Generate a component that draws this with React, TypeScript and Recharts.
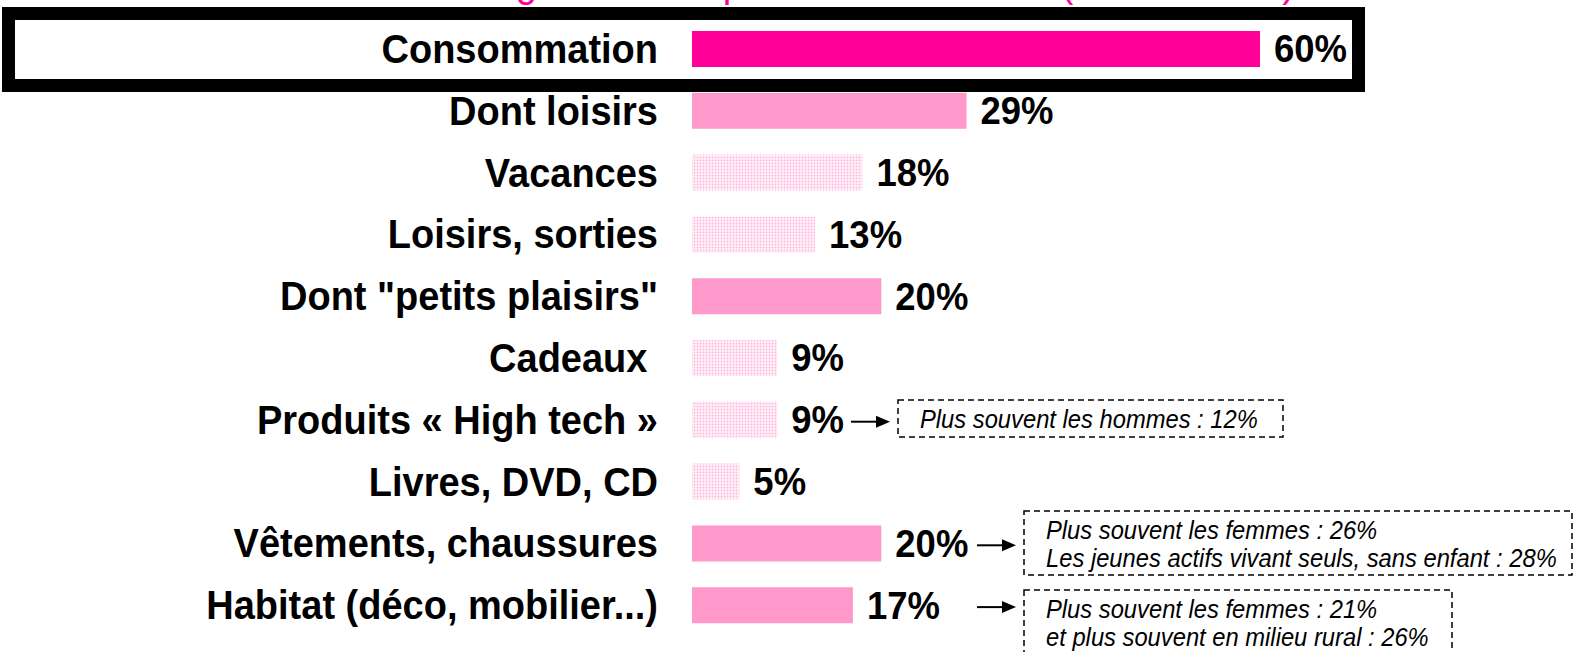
import React from 'react';
import { Bar, BarChart, Cell, LabelList, XAxis, YAxis } from 'recharts';

document.body.style.margin = '0';

const categories = [
  'Consommation',
  'Dont loisirs',
  'Vacances',
  'Loisirs, sorties',
  'Dont "petits plaisirs"',
  'Cadeaux\u00A0',
  'Produits « High tech »',
  'Livres, DVD, CD',
  'Vêtements, chaussures',
  'Habitat (déco, mobilier...)',
];
const values = [60, 29, 18, 13, 20, 9, 9, 5, 20, 17];
// total = whole row, group = sub-total, item = detail of a group
const levels = ['total', 'group', 'item', 'item', 'group', 'item', 'item', 'item', 'group', 'group'];

const notes = [
  { row: 6, lines: ['Plus souvent les hommes : 12%'] },
  { row: 8, lines: ['Plus souvent les femmes : 26%', 'Les jeunes actifs vivant seuls, sans enfant : 28%'] },
  { row: 9, lines: ['Plus souvent les femmes : 21%', 'et plus souvent en milieu rural : 26%'] },
];

const titleText = "Utilisation de l'argent mis en plus de côté à la fin (Total : 100%)";

const W = 1574;
const H = 652;
const MARGIN = { top: 18, right: 30, bottom: 16, left: 3 };
const AXIS_W = 689;
const BAND = (H - MARGIN.top - MARGIN.bottom) / categories.length;
const rowY = (i: number) => MARGIN.top + BAND * (i + 0.5);
const FONT = '"Liberation Sans", Arial, sans-serif';

const fills: Record<string, string> = { total: '#FF0099', group: '#FF99CC', item: 'url(#dots)' };

const data = categories.map((name, i) => ({ name, value: values[i], level: levels[i] }));

// note box placement, per note (x of arrow, box, size)
const noteLayout = [
  { ax1: 851, ax2: 890, bx: 898, bw: 385, by: 400, bh: 37 },
  { ax1: 977, ax2: 1016, bx: 1024, bw: 548, by: 511, bh: 64 },
  { ax1: 977, ax2: 1016, bx: 1024, bw: 428, by: 590, bh: 80 },
];

function CategoryTick({ x, y, payload }: any) {
  return (
    <g transform={`translate(${x - 34},${y}) scale(0.95,1)`}>
      <text textAnchor="end" dy="0.35em" fontSize={40} fontWeight="bold" fill="#000" fontFamily={FONT}>
        {payload.value}
      </text>
    </g>
  );
}

function ValueLabel({ x, y, width, height, value }: any) {
  return (
    <g transform={`translate(${x + width + 14},${y + height / 2}) scale(0.96,1)`}>
      <text dy="0.35em" fontSize={38} fontWeight="bold" fill="#000" fontFamily={FONT}>
        {value}%
      </text>
    </g>
  );
}

function Overlay() {
  return (
    <svg width={W} height={H} style={{ position: 'absolute', left: 0, top: 0, pointerEvents: 'none' }}>
      <g transform="translate(1295,-3) scale(0.95,1)">
        <text textAnchor="end" fontSize={40} fill="#FF0099" fontFamily={FONT}>{titleText}</text>
      </g>
      <rect x={8.5} y={13.5} width={1350} height={72} fill="none" stroke="#000" strokeWidth={13}/>
      {notes.map((n, k) => {
        const l = noteLayout[k];
        const cy = rowY(n.row) + 2;
        return (
          <g key={k}>
            <line x1={l.ax1} y1={cy} x2={l.ax2 - 12} y2={cy} stroke="#000" strokeWidth={2}/>
            <polygon points={`${l.ax2},${cy} ${l.ax2 - 14},${cy - 6} ${l.ax2 - 14},${cy + 6}`} fill="#000"/>
            <rect x={l.bx} y={l.by} width={l.bw} height={l.bh} fill="#fff" stroke="#000" strokeWidth={1.5} strokeDasharray="6 4"/>
            {n.lines.map((t, j) => (
              <g key={j} transform={`translate(${l.bx + 22},${l.by + 19 + j * 28}) scale(0.95,1)`}>
                <text dy="0.35em" fontSize={25} fontStyle="italic" fill="#000" fontFamily={FONT}>{t}</text>
              </g>
            ))}
          </g>
        );
      })}
    </svg>
  );
}

export default function App() {
  return (
    <div style={{ position: 'relative', width: W, height: H, background: '#fff', overflow: 'hidden' }}>
      <BarChart width={W} height={H} data={data} layout="vertical" margin={MARGIN}>
        <defs>
          <pattern id="dots" width="3" height="3" patternUnits="userSpaceOnUse">
            <rect width="3" height="3" fill="#FFF2F9"/>
            <circle cx="1.5" cy="1.5" r="0.9" fill="#FFB8DC"/>
          </pattern>
        </defs>
        <XAxis type="number" hide domain={[0, 90]}/>
        <YAxis
          type="category"
          dataKey="name"
          width={AXIS_W}
          axisLine={false}
          tickLine={false}
          tickSize={0}
          tickMargin={0}
          interval={0}
          tick={<CategoryTick/>}
        />
        <Bar dataKey="value" barSize={36} isAnimationActive={false}>
          {data.map((d, i) => (
            <Cell key={i} fill={fills[d.level]}/>
          ))}
          <LabelList dataKey="value" content={<ValueLabel/>}/>
        </Bar>
      </BarChart>
      <Overlay/>
    </div>
  );
}
